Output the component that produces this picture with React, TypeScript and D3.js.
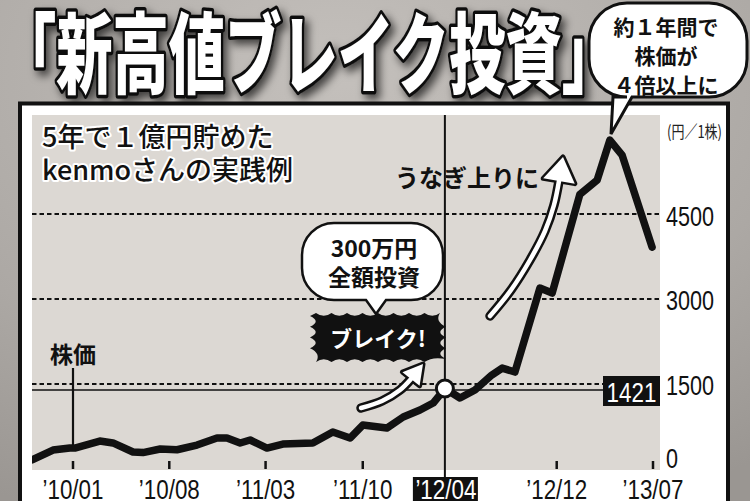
import React from "react";
import * as d3 from "d3";

// ---- data ----
const dates = [
  "2009-10-03", "2009-11-18", "2009-12-25", "2010-01-05", "2010-03-01", "2010-03-30",
  "2010-05-13", "2010-06-04", "2010-07-12", "2010-08-18", "2010-10-01", "2010-11-14",
  "2010-12-06", "2011-01-04", "2011-01-26", "2011-03-04", "2011-04-08", "2011-06-13",
  "2011-07-27", "2011-09-03", "2011-10-01", "2011-11-23", "2011-12-29", "2012-02-04",
  "2012-03-04", "2012-03-30", "2012-05-02", "2012-06-04", "2012-07-11", "2012-08-03",
  "2012-08-31", "2012-10-25", "2012-11-21", "2013-01-21", "2013-02-28", "2013-03-28",
  "2013-04-24", "2013-06-29",
];
const prices = [
  160, 335, 370, 370, 494, 460,
  300, 290, 353, 340, 423, 547,
  547, 459, 512, 370, 441, 459,
  653, 547, 776, 723, 918, 1041,
  1165, 1421, 1253, 1394, 1659, 1782,
  1712, 3194, 3106, 4850, 5100, 5806,
  5541, 3918,
];
const xTickDates = ["2010-01-01", "2010-08-01", "2011-03-01", "2011-10-01", "2012-04-01", "2012-12-01", "2013-07-01"];
const xTickLabels = ["’10/01", "’10/08", "’11/03", "’11/10", "’12/04", "’12/12", "’13/07"];
const yTicks = [0, 1500, 3000, 4500];
const yGrid = [1500, 3000, 4500];
const breakDate = "2012-04-01";
const breakPrice = 1421;
const markerDate = "2010-01-01";
const markerPrice = 370;

const parse = (s: string) => new Date(s + "T00:00:00");

const SANS = "'Liberation Sans', Arial, sans-serif";
const JP = "'Noto Sans CJK JP', 'Noto Sans', sans-serif";

function bubblePath(x0: number, y0: number, x1: number, y1: number, r: number,
  tA: number, tB: number, tipX: number, tipY: number) {
  return `M${x0 + r},${y0} H${x1 - r} A${r},${r} 0 0 1 ${x1},${y0 + r} V${y1 - r} A${r},${r} 0 0 1 ${x1 - r},${y1}
  H${tB} L${tipX},${tipY} L${tA},${y1} H${x0 + r} A${r},${r} 0 0 1 ${x0},${y1 - r} V${y0 + r} A${r},${r} 0 0 1 ${x0 + r},${y0} Z`;
}

function burstPath(x0: number, y0: number, x1: number, y1: number) {
  let d = `M${x0},${y0 - 3}`;
  const edge = (ax: number, ay: number, bx: number, by: number, n: number, out: number, nx: number, ny: number) => {
    for (let i = 1; i <= n; i++) {
      const t1 = i / n, tm = (i - 0.5) / n;
      const ex = ax + (bx - ax) * t1 + nx * out, ey = ay + (by - ay) * t1 + ny * out;
      const cx = ax + (bx - ax) * tm - nx * out * 0.9, cy = ay + (by - ay) * tm - ny * out * 0.9;
      d += ` Q${cx.toFixed(1)},${cy.toFixed(1)} ${ex.toFixed(1)},${ey.toFixed(1)}`;
    }
  };
  edge(x0, y0, x1, y0, 8, 3, 0, -1);
  edge(x1, y0, x1, y1, 4, 6, 1, 0);
  edge(x1, y1, x0, y1, 8, 3, 0, 1);
  edge(x0, y1, x0, y0, 4, 6, -1, 0);
  return d + " Z";
}

function Arrow({ pts, tip, hw, sw }: { pts: [number, number][]; tip: [number, number]; hw: number; sw: number }) {
  const line = d3.line().curve(d3.curveCatmullRom)(pts) as string;
  const [bx, by] = pts[pts.length - 1];
  const dx = tip[0] - bx, dy = tip[1] - by;
  const L = Math.hypot(dx, dy);
  const nx = -dy / L, ny = dx / L;
  const head = `M${tip[0]},${tip[1]} L${bx + nx * hw},${by + ny * hw} L${bx - nx * hw},${by - ny * hw} Z`;
  return (
    <g>
      <path d={line} fill="none" stroke="#111" strokeWidth={sw + 5} strokeLinecap="round" />
      <path d={head} fill="#111" stroke="#111" strokeWidth={5} strokeLinejoin="round" />
      <path d={line} fill="none" stroke="#fff" strokeWidth={sw} strokeLinecap="round" />
      <path d={head} fill="#fff" />
    </g>
  );
}

// condensed text: horizontally squeezed sans
function Narrow({ x, y, size, fill, anchor, children, baseline }:
  { x: number; y: number; size: number; fill: string; anchor?: string; children: any; baseline?: string }) {
  return (
    <text transform={`translate(${x},${y}) scale(0.8,1)`} fontFamily={SANS} fontSize={size}
      fill={fill} textAnchor={anchor || "start"} dominantBaseline={baseline}>{children}</text>
  );
}

export default function App() {
  const W = 750, H = 501;
  const plot = { left: 32, right: 660, top: 115, bottom: 470 };
  const x = d3.scaleTime().domain([parse("2010-01-01"), parse("2013-07-01")]).range([73, 653]);
  const y = d3.scaleLinear().domain([0, 6250]).range([469, 115]);

  const series = dates.map((d, i) => ({ d: parse(d), v: prices[i] }));
  const linePath = d3.line<{ d: Date; v: number }>()
    .x((p) => x(p.d))
    .y((p) => y(p.v))(series) as string;

  const bx = x(parse(breakDate)) - 1;
  const by = y(breakPrice);
  const mx = x(parse(markerDate));

  return (
    <svg width={W} height={H} viewBox={`0 0 ${W} ${H}`}
      style={{ position: "absolute", left: 0, top: 0, display: "block" }}>
      <defs>
        <radialGradient id="bg" cx="0.45" cy="0.15" r="0.95">
          <stop offset="0" stopColor="#c4c0bc" />
          <stop offset="0.65" stopColor="#aca8a4" />
          <stop offset="1" stopColor="#9a9692" />
        </radialGradient>
        <filter id="shadow" x="-10%" y="-30%" width="130%" height="170%">
          <feDropShadow dx="4" dy="5" stdDeviation="4" floodColor="#000" floodOpacity="0.65" />
        </filter>
        <clipPath id="plotclip">
          <rect x={plot.left} y={plot.top} width={plot.right - plot.left} height={plot.bottom - plot.top} />
        </clipPath>
      </defs>

      <rect x={0} y={0} width={W} height={H} fill="url(#bg)" />

      {/* title */}
      <text x={0} y={86} fontFamily={JP} fontWeight={900} fontSize={88}
        textLength={618} lengthAdjust="spacingAndGlyphs"
        fill="#fff" stroke="#111" strokeWidth={7} strokeLinejoin="round"
        style={{ paintOrder: "stroke" }} filter="url(#shadow)">「新高値ブレイク投資」</text>

      {/* panel */}
      <rect x={20} y={103.5} width={708} height={460} fill="#fff" stroke="#111" strokeWidth={4} />
      <rect x={plot.left} y={plot.top} width={plot.right - plot.left} height={plot.bottom - plot.top} fill="#dcd8d3" />

      {/* subtitle */}
      <g fontFamily={JP} fontWeight={500} fontSize={27} fill="#111" stroke="#fff" strokeWidth={4}
        strokeLinejoin="round" style={{ paintOrder: "stroke" }}>
        <text x={42} y={147}>5年で１億円貯めた</text>
        <text x={42} y={180}>kenmoさんの実践例</text>
      </g>

      {/* grid */}
      {yGrid.map((v) => (
        <line key={v} x1={plot.left} x2={plot.right} y1={y(v)} y2={y(v)}
          stroke="#111" strokeWidth={2} strokeDasharray="4.5,3" />
      ))}

      {/* 1421 reference line */}
      <line x1={plot.left} x2={603} y1={by + 1.5} y2={by + 1.5} stroke="#111" strokeWidth={1.6} />
      <rect x={603} y={376} width={57} height={30} fill="#111" />
      <Narrow x={631.5} y={392} size={28} fill="#fff" anchor="middle" baseline="central">{breakPrice}</Narrow>

      {/* vertical break line */}
      <line x1={bx} x2={bx} y1={plot.top} y2={478} stroke="#111" strokeWidth={2} />

      {/* 株価 marker */}
      <line x1={mx} x2={mx} y1={368} y2={y(markerPrice)} stroke="#111" strokeWidth={2.2} />
      <text x={mx} y={363} fontFamily={JP} fontWeight={700} fontSize={23} fill="#111" textAnchor="middle">株価</text>

      {/* x ticks */}
      {xTickDates.map((d) => d === breakDate ? null : (
        <line key={d} x1={x(parse(d))} x2={x(parse(d))} y1={461} y2={469} stroke="#111" strokeWidth={2.5} />
      ))}

      {/* price line */}
      <g clipPath="url(#plotclip)">
        <path d={linePath} fill="none" stroke="#111" strokeWidth={7.5} strokeLinejoin="round" strokeLinecap="round" />
      </g>

      {/* break circle */}
      <circle cx={bx} cy={by} r={8.5} fill="#fff" stroke="#111" strokeWidth={3} />

      {/* arrows */}
      <Arrow pts={[[490, 316], [511, 290], [530, 260], [545, 231], [554, 205], [559, 181]]}
        tip={[563, 157]} hw={16} sw={4.5} />
      <Arrow pts={[[361, 408], [382, 401], [400, 390], [411, 379]]}
        tip={[423, 364]} hw={11} sw={4.5} />

      <text x={395} y={187} fontFamily={JP} fontWeight={700} fontSize={24} fill="#111">うなぎ上りに</text>

      {/* 300万円 bubble */}
      <path d={bubblePath(302, 223, 443, 300, 32, 366, 386, 376, 314)} fill="#fff" stroke="#111" strokeWidth={2.5} />
      <g fontFamily={JP} fontWeight={700} fontSize={23} fill="#111" textAnchor="middle">
        <text x={374} y={257}>300万円</text>
        <text x={374} y={286}>全額投資</text>
      </g>

      {/* burst */}
      <path d={burstPath(316, 316, 440, 359)} fill="#111" />
      <text x={378} y={347} fontFamily={JP} fontWeight={700} fontSize={22} fill="#fff" textAnchor="middle">ブレイク!</text>

      {/* y axis labels */}
      <text x={667} y={130} fontFamily={JP} fontSize={17} fill="#222" dominantBaseline="central"
        textLength={55} lengthAdjust="spacingAndGlyphs">(円／1株)</text>
      {yTicks.map((v) => (
        <Narrow key={v} x={666} y={v === 0 ? y(v) - 10 : y(v) + 2} size={27} fill="#111"
          baseline="central">{v}</Narrow>
      ))}

      {/* x labels */}
      {xTickDates.map((d, i) => {
        const cx = x(parse(d));
        const isBreak = d === breakDate;
        return (
          <g key={d}>
            {isBreak && <rect x={cx - 33} y={477} width={65} height={30} fill="#111" />}
            <Narrow x={cx} y={499} size={28} anchor="middle" fill={isBreak ? "#fff" : "#111"}>{xTickLabels[i]}</Narrow>
          </g>
        );
      })}

      {/* top-right bubble */}
      <path d={bubblePath(589, 3, 747, 97, 38, 613, 632, 611, 134)} fill="#fff" stroke="#111" strokeWidth={3} />
      <g fontFamily={JP} fontWeight={700} fontSize={21} fill="#111" textAnchor="middle">
        <text x={666} y={35}>約１年間で</text>
        <text x={666} y={64}>株価が</text>
        <text x={666} y={93}>４倍以上に</text>
      </g>
    </svg>
  );
}
